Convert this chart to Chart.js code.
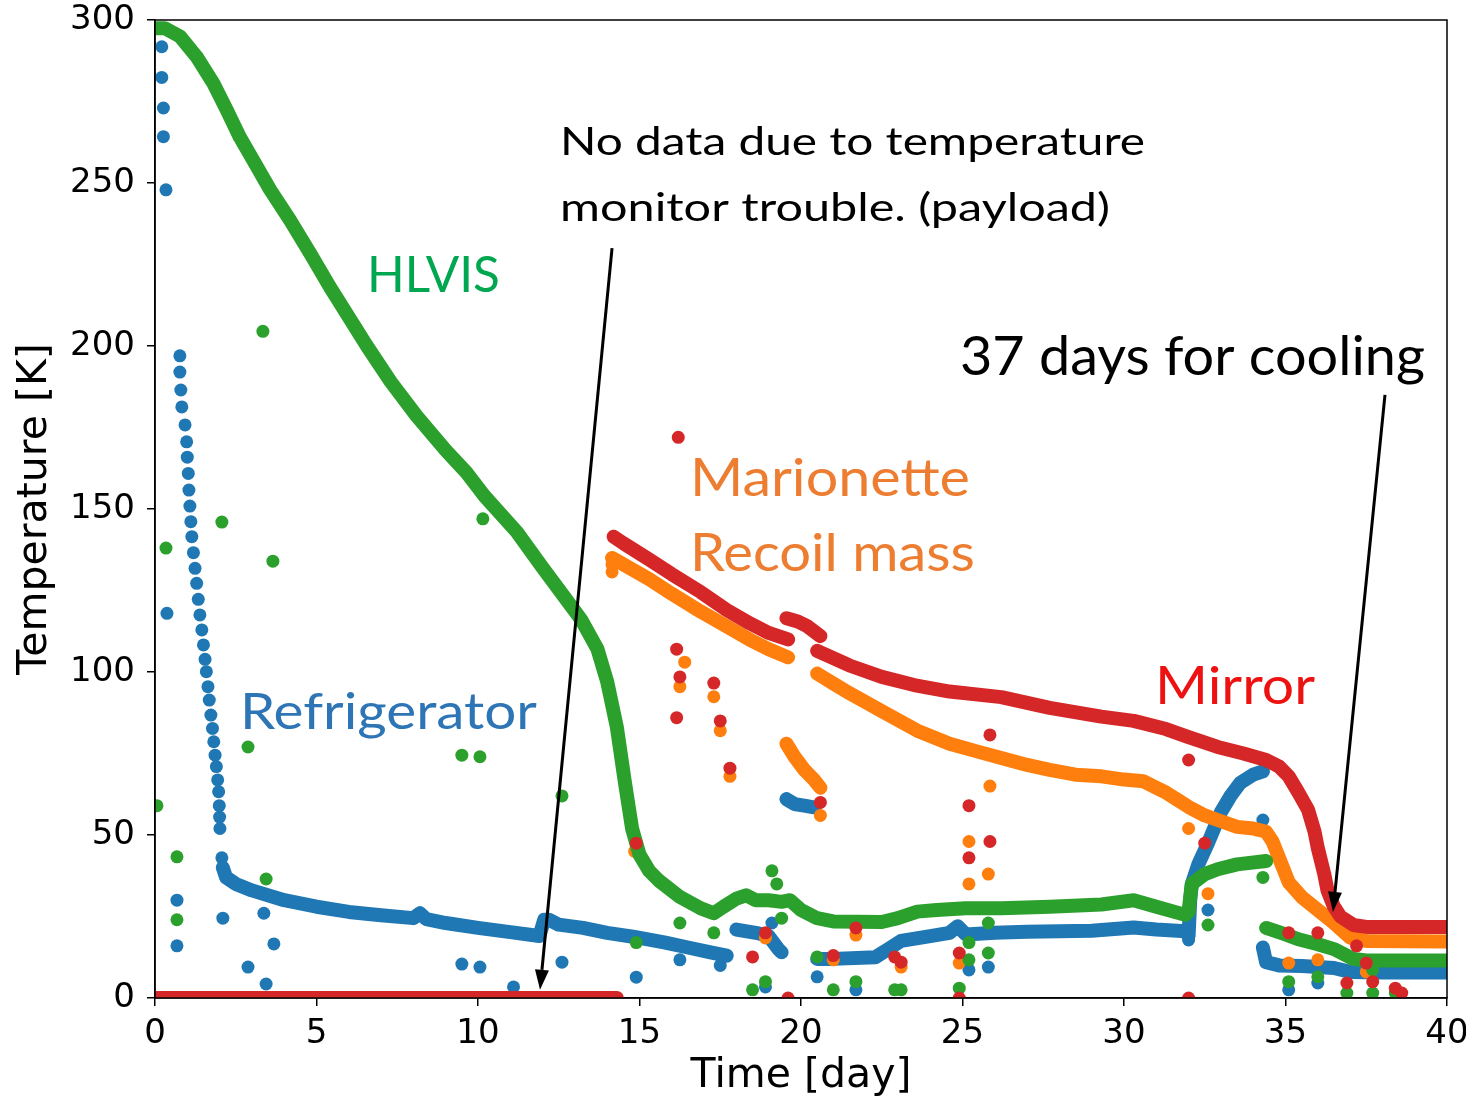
<!DOCTYPE html>
<html>
<head>
<meta charset="utf-8">
<title>Cooling</title>
<script src="https://cdn.jsdelivr.net/npm/chart.js@4.4.1/dist/chart.umd.min.js"></script>
<style>
  html, body { margin: 0; padding: 0; background: #fff; }
</style>
</head>
<body>
<canvas id="grafico" width="1466" height="1101"></canvas>
<script>
// valores: [dia, K]; y = null corta la curva
const refriCurva = [[2.1,40],[2.2,37],[2.5,35],[3,33],[4,30],[5,28],[6,26.4],[7,25.4],[8,24.5],[8.2,26],[8.4,24.2],
  [9,23],[10,21.5],[11,20.2],[11.9,19],[12.05,24],[12.2,24],[12.5,22.5],[13.25,21.5],[14,20],[14.8,18.8],[15.8,17],
  [16.5,15.5],[17.2,14],[17.7,13],[17.7,null],[18,21],[18.6,20],[19,19],[19.3,15],[19.4,14],[19.4,null],
  [19.55,61],[19.8,59.5],[20.1,59],[20.4,58.5],[20.4,null],[20.5,12],[21,12],[22.3,12.5],[22.7,15],[23.1,17.5],
  [24,19],[24.6,20],[24.85,22],[25.1,19.5],[26,20],[27,20.3],[28,20.5],[29,20.6],[30.3,21.6],[31,21],[31.9,20.5],
  [32,19],[32.05,30],[32.1,35],[32.3,41],[32.6,47.5],[33,57],[33.3,62],[33.6,66],[34,68.5],[34.3,69.5],[34.3,null],
  [34.3,15.5],[34.4,11],[34.8,10],[35.5,9.8],[36.5,9.2],[37,8],[38,7.8],[40,7.8]];
const refriCaida = [[0.77,197],[0.77,192],[0.8,186.5],[0.83,181.3],[0.93,175.8],[0.98,170.6],[1,165.9],[1.03,160.9],
  [1.05,155.8],[1.08,150.9],[1.11,146.1],[1.14,141.5],[1.19,136.6],[1.24,131.8],[1.29,127.2],[1.34,122.3],[1.39,117.5],
  [1.45,112.9],[1.5,108.3],[1.55,103.9],[1.59,100.1],[1.64,95.5],[1.68,91.4],[1.73,86.8],[1.78,82.7],[1.82,78.6],
  [1.86,74.5],[1.9,71],[1.94,66.9],[1.97,63.3],[1.99,59],[2,55.5],[2.01,52],[2.07,43]];
const refriSueltos = [[0.21,291.8],[0.21,282.4],[0.26,273],[0.26,264.2],[0.34,247.9],[0.37,118],[0.68,30],[0.68,16],
  [2.1,24.5],[2.88,9.5],[3.37,26],[3.68,16.6],[3.44,4.3],[9.5,10.4],[10.06,9.5],[11.1,3.4],[12.6,11],[14.9,6.4],
  [16.25,11.7],[17.5,10],[18.9,3.4],[19.1,23],[20.5,6.5],[21.7,2.5],[25.2,8.6],[25.8,9.5],[32,17.8],[32.6,27],
  [34.3,54.6],[35.1,2.5],[36,4.6]];

const hlvisCurva = [[0,297.5],[0.3,297.5],[0.77,295],[1.29,288.7],[1.8,280.7],[2.22,272.4],[2.63,264],[3.04,257],
  [3.56,248],[4.18,238.6],[4.8,228.5],[5.42,218],[5.93,210],[6.56,200],[7.3,189],[8.1,178.5],[9,168],[9.66,161],
  [10.2,154],[11.2,143],[12,132],[12.75,122],[13.2,116],[13.7,107],[14,97],[14.3,83],[14.55,66],[14.77,52],[15,44],
  [15.3,39],[15.6,36],[16.25,31],[16.9,27.5],[17.3,26],[17.6,28],[18,30.5],[18.3,31.5],[18.6,30],[19,30],[19.4,29.5],
  [19.66,30],[20,27],[20.5,24.5],[21,23.5],[22.5,23.3],[23,24.5],[23.6,26.5],[24.2,27],[25.1,27.5],[26.2,27.5],
  [27.7,28],[29.3,28.7],[30.3,30],[31,28],[31.9,25.5],[32,26.5],[32.05,31],[32.1,35],[32.5,38],[32.9,39.5],[33.5,41],
  [34.4,42],[34.4,null],[34.4,21.5],[35,19.5],[35.4,18],[36,16.5],[36.5,15],[37.1,12],[37.5,11.5],[40,11.5]];
const hlvisSueltos = [[0.06,59],[0.34,138],[0.68,43.3],[0.68,24],[2.07,146],[2.88,77],[3.34,204.5],[3.65,134],
  [3.44,36.5],[9.5,74.5],[10.06,74],[10.15,147],[12.6,62],[14.9,17],[16.25,23],[17.3,20],[18.5,2.5],[18.9,5],
  [19.1,39],[19.25,35],[19.4,24.5],[20.5,12.6],[21,2.5],[21.7,5],[22.9,2.5],[23.1,2.5],[24.9,3],[25.2,17],[25.2,11.7],
  [25.8,23],[25.8,13.8],[32.6,22.4],[34.3,37],[35.1,5],[36,6.5],[36.9,1.5],[37.7,1.5],[37.7,8.6],[38.4,1.5]];

const marioCurva = [[14.15,135],[14.5,133],[15.3,128.5],[16,124],[16.9,118.5],[17.7,114],[18.4,110],[19,107],
  [19.6,104.5],[19.6,null],[19.55,78],[19.8,74],[20.1,70],[20.4,67],[20.6,64.5],[20.6,null],[20.5,99.5],[21,96.5],
  [21.5,93.5],[22.5,88],[23.6,82],[24.6,78],[25.5,75.5],[26.2,73.6],[27,71.5],[27.7,70],[28.5,68.5],[29.3,68],[30,67],
  [30.6,66.5],[31,64.5],[31.3,63],[31.7,60.5],[32,58.6],[32.5,56],[32.9,54.6],[33.5,52.5],[34,52],[34.4,51],[34.6,48],
  [34.8,43],[35.1,35.5],[35.5,31],[36,27],[36.5,23],[37,18.5],[37.5,17.5],[40,17.3]];
const marioSueltos = [[14.15,130.7],[14.15,133],[14.85,45],[16.4,103],[16.25,95.5],[17.3,92.4],[17.5,82],[17.8,68],
  [18.9,18.4],[20.6,56],[21,11.7],[21.7,19.3],[23.1,9.5],[24.9,10.7],[25.2,48],[25.2,35],[25.8,38],[25.85,65],[32,52],
  [32.6,32],[35.1,10.7],[36,11.7],[37.5,8]];

const espejoCurva = [[0,0],[14.3,0],[14.3,null],[14.2,141.5],[14.5,139.5],[15.3,134.5],[16,130],[16.9,124.5],
  [17.7,119],[18.4,115],[19,112],[19.6,110],[19.6,null],[19.55,116.5],[19.9,115.5],[20.2,114],[20.6,111],[20.6,null],
  [20.5,106.5],[21.5,102],[22.5,98.5],[23.5,96],[24.6,94],[26.2,92.3],[27.7,89],[29.3,86.3],[30.3,85],[31.3,82.5],
  [32,80],[32.9,77],[33.7,75],[34.4,73],[34.8,71],[35.1,68],[35.4,63],[35.7,57.7],[35.9,51],[36,46],[36.2,38],
  [36.3,33],[36.5,28],[36.7,25],[37.1,22.4],[37.5,21.8],[40,21.8]];
const espejoSueltos = [[16.2,172],[16.15,107],[16.25,98.5],[16.15,86],[17.3,96.6],[17.5,85],[17.8,70.5],[14.9,47.5],
  [18.5,12.6],[18.9,20],[19.6,0],[20.6,60],[21,13],[21.7,21.5],[22.9,12.6],[23.1,11],[24.9,13.8],[24.9,0],[25.2,59],
  [25.2,43],[25.85,80.7],[25.85,48],[32,73],[32.5,47.5],[32,0],[35.1,20],[36,20],[37.2,16],[37.5,10.7],[37.7,5],
  [36.9,4.6],[38.4,3],[38.6,1.5]];

const ticksX = [0, 5, 10, 15, 20, 25, 30, 35, 40];
const ticksY = [0, 50, 100, 150, 200, 250, 300];

// textos y flechas puestos a mano sobre el grafico (dia, K)
const notas = [
  { texto: 'No data due to temperature', x: 12.54, y: 258.6, tam: 38, ancho: 585, color: '#000' },
  { texto: 'monitor trouble. (payload)', x: 12.54, y: 238.3, tam: 38, ancho: 550, color: '#000' },
  { texto: '37 days for cooling', x: 24.92, y: 191.1, tam: 55, ancho: 465, color: '#000' },
  { texto: 'HLVIS', x: 6.56, y: 216.6, tam: 50, ancho: 133, color: '#00a650' },
  { texto: 'Refrigerator', x: 2.63, y: 82.5, tam: 51, ancho: 297, color: '#2e75b6' },
  { texto: 'Marionette', x: 16.56, y: 154, tam: 52, ancho: 280, color: '#ed7d31' },
  { texto: 'Recoil mass', x: 16.56, y: 131, tam: 52, ancho: 285, color: '#ed7d31' },
  { texto: 'Mirror', x: 30.96, y: 90.2, tam: 52, ancho: 160, color: '#ee1111' }
];
const flechas = [
  { desde: [14.15, 230], hasta: [11.92, 2.5] },
  { desde: [38.08, 185], hasta: [36.47, 26.4] }
];

const pares = lista => lista.map(p => ({ x: p[0], y: p[1] }));

function curva(datos, color, orden) {
  return {
    data: pares(datos), showLine: true, borderColor: color, borderWidth: 14,
    borderCapStyle: 'round', borderJoinStyle: 'round', pointRadius: 0,
    spanGaps: false, clip: 0, order: orden
  };
}
function puntos(datos, color, orden) {
  return {
    data: pares(datos), showLine: false, backgroundColor: color, borderWidth: 0,
    pointRadius: 6.5, clip: 0, order: orden
  };
}

const marcoYNotas = {
  id: 'marcoYNotas',
  afterDatasetsDraw(chart) {
    const { ctx, chartArea: a, scales: { x, y } } = chart;
    ctx.save();
    ctx.strokeStyle = '#000';
    ctx.lineWidth = 1.5;
    ctx.strokeRect(a.left, a.top, a.right - a.left, a.bottom - a.top);

    flechas.forEach(f => {
      const x0 = x.getPixelForValue(f.desde[0]), y0 = y.getPixelForValue(f.desde[1]);
      const x1 = x.getPixelForValue(f.hasta[0]), y1 = y.getPixelForValue(f.hasta[1]);
      const ang = Math.atan2(y1 - y0, x1 - x0);
      const largo = 20, medio = 7;
      const bx = x1 - largo * Math.cos(ang), by = y1 - largo * Math.sin(ang);
      ctx.strokeStyle = '#000';
      ctx.lineWidth = 3;
      ctx.beginPath();
      ctx.moveTo(x0, y0);
      ctx.lineTo(bx, by);
      ctx.stroke();
      ctx.fillStyle = '#000';
      ctx.beginPath();
      ctx.moveTo(x1, y1);
      ctx.lineTo(bx + medio * Math.sin(ang), by - medio * Math.cos(ang));
      ctx.lineTo(bx - medio * Math.sin(ang), by + medio * Math.cos(ang));
      ctx.closePath();
      ctx.fill();
    });

    notas.forEach(n => {
      ctx.font = n.tam + 'px Lato';
      ctx.fillStyle = n.color;
      ctx.textAlign = 'left';
      ctx.textBaseline = 'alphabetic';
      const w = ctx.measureText(n.texto).width;
      ctx.save();
      ctx.translate(x.getPixelForValue(n.x), y.getPixelForValue(n.y));
      ctx.scale(n.ancho / w, 1);
      ctx.fillText(n.texto, 0, 0);
      ctx.restore();
    });
    ctx.restore();
  }
};

const fuenteEje = { family: 'DejaVu Sans', size: 34 };
const fuenteTitulo = { family: 'DejaVu Sans', size: 41 };

new Chart(document.getElementById('grafico').getContext('2d'), {
  type: 'scatter',
  data: {
    datasets: [
      curva(espejoCurva, '#d62728', 0),
      puntos(espejoSueltos, '#d62728', 0),
      curva(hlvisCurva, '#2ca02c', 1),
      puntos(hlvisSueltos, '#2ca02c', 1),
      curva(marioCurva, '#ff7f0e', 2),
      puntos(marioSueltos, '#ff7f0e', 2),
      curva(refriCurva, '#1f77b4', 3),
      puntos(refriCaida.concat(refriSueltos), '#1f77b4', 3)
    ]
  },
  options: {
    responsive: false,
    animation: false,
    events: [],
    layout: { padding: { top: 20, right: 19, bottom: 0, left: 0 } },
    plugins: {
      legend: { display: false },
      tooltip: { enabled: false }
    },
    scales: {
      x: {
        type: 'linear', min: 0, max: 40,
        afterBuildTicks: s => { s.ticks = ticksX.map(v => ({ value: v })); },
        ticks: { font: fuenteEje, color: '#000', padding: 8 },
        grid: { drawOnChartArea: false, drawTicks: true, tickLength: 8, color: '#000', lineWidth: 1.5 },
        border: { display: true, color: '#000', width: 1.5 },
        title: { display: true, text: 'Time [day]', font: fuenteTitulo, color: '#000', padding: { top: 0, bottom: 0 } },
        afterFit: s => { s.height = 103; s.paddingLeft = 0; s.paddingRight = 19; }
      },
      y: {
        type: 'linear', min: 0, max: 300,
        afterBuildTicks: s => { s.ticks = ticksY.map(v => ({ value: v })); },
        ticks: { font: fuenteEje, color: '#000', padding: 12 },
        grid: { drawOnChartArea: false, drawTicks: true, tickLength: 8, color: '#000', lineWidth: 1.5 },
        border: { display: true, color: '#000', width: 1.5 },
        title: { display: true, text: 'Temperature [K]', font: fuenteTitulo, color: '#000', padding: { top: 11, bottom: 0 } },
        afterFit: s => { s.width = 155; s.paddingTop = 20; s.paddingBottom = 0; }
      }
    }
  },
  plugins: [marcoYNotas]
});
</script>
</body>
</html>
